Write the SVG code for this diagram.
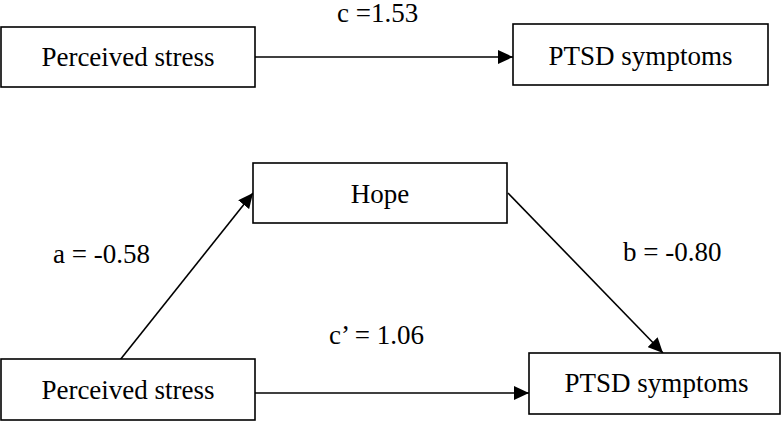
<svg xmlns="http://www.w3.org/2000/svg" width="784" height="421" viewBox="0 0 784 421">
<defs>
<marker id="arr" markerWidth="16" markerHeight="14" refX="15" refY="7" orient="auto" markerUnits="userSpaceOnUse">
<path d="M0,0 L15,7 L0,14 Z" fill="#000"/>
</marker>
<style>
.box{fill:#fff;stroke:#000;stroke-width:1.6}
.t{font-family:"Liberation Serif","Times New Roman",serif;font-size:27px;fill:#000}
.c{text-anchor:middle}
.ln{stroke:#000;stroke-width:1.6;fill:none}
</style>
</defs>
<rect width="784" height="421" fill="#fff"/>
<g id="connectors">
<line class="ln" x1="255" y1="57" x2="513" y2="57" marker-end="url(#arr)"/>
<line class="ln" x1="120" y1="360" x2="253" y2="193" marker-end="url(#arr)"/>
<line class="ln" x1="508" y1="193" x2="663" y2="353" marker-end="url(#arr)"/>
<line class="ln" x1="255" y1="393" x2="529" y2="393" marker-end="url(#arr)"/>
</g>
<g id="labels">
<text class="t" x="337" y="22">c =1.53</text>
<text class="t" x="53" y="263">a = -0.58</text>
<text class="t" x="623" y="261">b = -0.80</text>
<text class="t" x="329" y="344">c’ = 1.06</text>
</g>
<g id="ps1"><rect class="box" x="1" y="27" width="254" height="60"/><text class="t c" x="128" y="66">Perceived stress</text></g>
<g id="ptsd1"><rect class="box" x="513" y="24" width="255" height="61"/><text class="t c" x="640.5" y="65">PTSD symptoms</text></g>
<g id="hope"><rect class="box" x="253" y="163" width="254" height="60"/><text class="t c" x="380" y="203">Hope</text></g>
<g id="ps2"><rect class="box" x="1" y="359" width="254" height="61"/><text class="t c" x="128" y="399">Perceived stress</text></g>
<g id="ptsd2"><rect class="box" x="529" y="353" width="251" height="61"/><text class="t c" x="656.5" y="392">PTSD symptoms</text></g>
</svg>
